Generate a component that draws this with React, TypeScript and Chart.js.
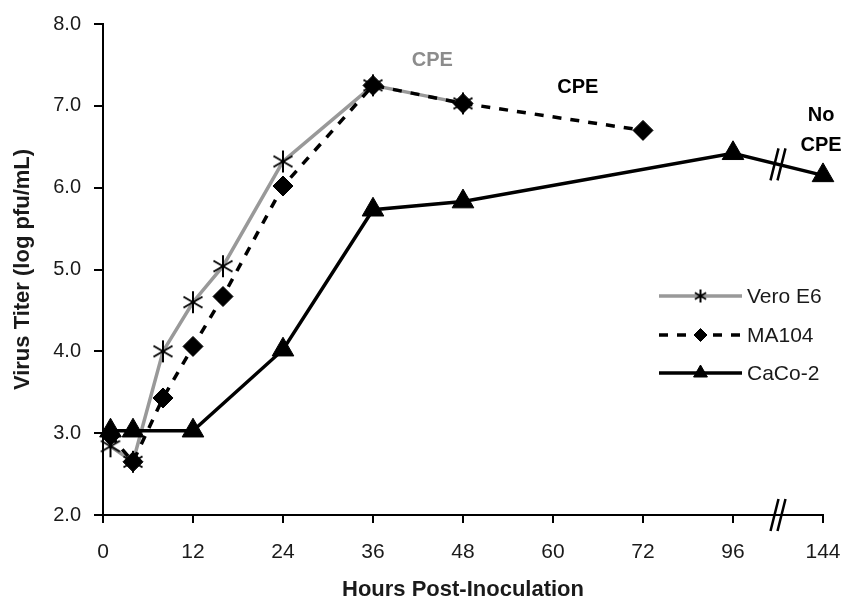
import React, { useEffect, useRef } from "react";
import { Chart, registerables } from "chart.js";
import { drawPoint } from "chart.js/helpers";

Chart.register(...registerables);

// ---- data ----
const TICK_HOURS = [0, 12, 24, 36, 48, 60, 72, 96, 144];
const TICK_LABELS = ["0", "12", "24", "36", "48", "60", "72", "96", "144"];

const SERIES_NAMES = ["Vero E6", "MA104", "CaCo-2"];

const VERO_HOURS = [1, 4, 8, 12, 16, 24, 36, 48];
const VERO_TITER = [2.84, 2.65, 4.0, 4.6, 5.04, 6.32, 7.25, 7.03];

const MA104_HOURS = [1, 4, 8, 12, 16, 24, 36, 48, 72];
const MA104_TITER = [2.97, 2.65, 3.43, 4.06, 4.67, 6.02, 7.25, 7.03, 6.7];

const CACO2_HOURS = [1, 4, 12, 24, 36, 48, 96, 144];
const CACO2_TITER = [3.03, 3.03, 3.03, 4.02, 5.73, 5.83, 6.42, 6.15];

const NOTE_TEXTS = ["CPE", "CPE", "No", "CPE"];
const NOTE_HOURS = [43.9, 63.3, 143, 143];
const NOTE_TITERS = [7.56, 7.22, 6.88, 6.52];
const NOTE_COLORS = ["#8c8c8c", "#000000", "#000000", "#000000"];

const BREAK_HOUR = 120;

// ---- helpers ----
const STEP = 12;
function axisPos(h: number): number {
  for (let i = 0; i < TICK_HOURS.length - 1; i++) {
    const a = TICK_HOURS[i];
    const b = TICK_HOURS[i + 1];
    if (h <= b) return (i + (h - a) / (b - a)) * STEP;
  }
  return (TICK_HOURS.length - 1) * STEP;
}

function makeAsterisk(r: number, lw: number): HTMLCanvasElement {
  const c = document.createElement("canvas");
  const s = Math.ceil(2 * r + lw + 2);
  c.width = s;
  c.height = s;
  const ctx = c.getContext("2d")!;
  ctx.strokeStyle = "#000";
  ctx.lineWidth = lw;
  const cx = s / 2;
  const cy = s / 2;
  ctx.beginPath();
  for (const deg of [90, 30, 150]) {
    const a = (deg * Math.PI) / 180;
    const dx = Math.cos(a) * r;
    const dy = Math.sin(a) * r;
    ctx.moveTo(cx - dx, cy - dy);
    ctx.lineTo(cx + dx, cy + dy);
  }
  ctx.stroke();
  return c;
}

function toPoints(hours: number[], vals: number[]) {
  return hours.map((h, i) => ({ x: axisPos(h), y: vals[i] }));
}

const FONT = "'Liberation Sans', Arial, Helvetica, sans-serif";

export default function App() {
  const ref = useRef<HTMLCanvasElement | null>(null);

  useEffect(() => {
    if (!ref.current) return;
    const bigStar = makeAsterisk(11, 2);
    const smallStar = makeAsterisk(6.5, 2);
    const legendStyles = [smallStar, "rectRot", "triangle"];
    const legendRadii = [0, 6.5, 8];

    const annotations = {
      id: "annotations",
      afterDatasetsDraw(chart: any) {
        const { ctx, scales } = chart;
        const xs = scales.x;
        const ys = scales.y;
        ctx.save();
        ctx.font = `bold 20px ${FONT}`;
        ctx.textAlign = "center";
        ctx.textBaseline = "middle";
        NOTE_TEXTS.forEach((t, i) => {
          ctx.fillStyle = NOTE_COLORS[i];
          ctx.fillText(
            t,
            xs.getPixelForValue(axisPos(NOTE_HOURS[i])),
            ys.getPixelForValue(NOTE_TITERS[i])
          );
        });

        // break marks
        const drawBreak = (cx: number, cy: number) => {
          ctx.strokeStyle = "#000";
          ctx.lineWidth = 2.5;
          ctx.setLineDash([]);
          ctx.beginPath();
          for (const off of [-3.5, 3.5]) {
            ctx.moveTo(cx + off + 4, cy - 16);
            ctx.lineTo(cx + off - 4, cy + 16);
          }
          ctx.stroke();
        };
        const bx = xs.getPixelForValue(axisPos(BREAK_HOUR));
        drawBreak(bx, ys.getPixelForValue(ys.min));
        // on CaCo-2 line between last two points
        const n = CACO2_HOURS.length;
        const p0 = axisPos(CACO2_HOURS[n - 2]);
        const p1 = axisPos(CACO2_HOURS[n - 1]);
        const f = (axisPos(BREAK_HOUR) - p0) / (p1 - p0);
        const v = CACO2_TITER[n - 2] + f * (CACO2_TITER[n - 1] - CACO2_TITER[n - 2]);
        drawBreak(bx, ys.getPixelForValue(v));
        ctx.restore();
      },
    };

    const customLegend = {
      id: "customLegend",
      afterDraw(chart: any) {
        const { ctx } = chart;
        const x0 = 659;
        const x1 = 742;
        const tx = 747;
        const rows = [296, 335, 373];
        ctx.save();
        chart.data.datasets.forEach((ds: any, i: number) => {
          const y = rows[i];
          ctx.strokeStyle = ds.borderColor;
          ctx.lineWidth = ds.borderWidth;
          ctx.setLineDash(ds.borderDash || []);
          ctx.beginPath();
          ctx.moveTo(x0, y);
          ctx.lineTo(x1, y);
          ctx.stroke();
          ctx.setLineDash([]);
          ctx.fillStyle = "#000";
          ctx.strokeStyle = "#000";
          ctx.lineWidth = 1;
          drawPoint(
            ctx,
            { pointStyle: legendStyles[i], radius: legendRadii[i], rotation: 0, borderWidth: 1 },
            (x0 + x1) / 2,
            y
          );
          ctx.fillStyle = "#1a1a1a";
          ctx.font = `21px ${FONT}`;
          ctx.textAlign = "left";
          ctx.textBaseline = "middle";
          ctx.fillText(SERIES_NAMES[i], tx, y + 1);
        });
        ctx.restore();
      },
    };

    const chart = new Chart(ref.current, {
      type: "line",
      data: {
        datasets: [
          {
            label: SERIES_NAMES[0],
            data: toPoints(VERO_HOURS, VERO_TITER),
            borderColor: "#999999",
            borderWidth: 3.5,
            pointStyle: bigStar as any,
            pointRadius: 11,
            pointBackgroundColor: "#000",
            pointBorderColor: "#000",
            clip: false as any,
            order: 2,
          },
          {
            label: SERIES_NAMES[1],
            data: toPoints(MA104_HOURS, MA104_TITER),
            borderColor: "#000000",
            borderWidth: 3.5,
            borderDash: [9, 9],
            pointStyle: "rectRot",
            pointRadius: 10,
            pointBackgroundColor: "#000",
            pointBorderColor: "#000",
            pointBorderWidth: 1,
            clip: false as any,
            order: 1,
          },
          {
            label: SERIES_NAMES[2],
            data: toPoints(CACO2_HOURS, CACO2_TITER),
            borderColor: "#000000",
            borderWidth: 3.5,
            pointStyle: "triangle",
            pointRadius: 12.5,
            pointBackgroundColor: "#000",
            pointBorderColor: "#000",
            pointBorderWidth: 1,
            clip: false as any,
            order: 0,
          },
        ],
      },
      options: {
        animation: false,
        responsive: false,
        layout: { autoPadding: false, padding: { left: 0, right: 23, top: 24, bottom: 0 } },
        plugins: {
          legend: { display: false },
          tooltip: { enabled: false },
        },
        scales: {
          x: {
            type: "linear",
            min: 0,
            max: (TICK_HOURS.length - 1) * STEP,
            afterFit(scale: any) {
              scale.height = 90;
              scale.paddingLeft = 0;
              scale.paddingRight = 0;
            },
            ticks: {
              stepSize: STEP,
              padding: 17,
              color: "#1a1a1a",
              font: { family: FONT, size: 21 },
              callback: (v: any) => TICK_LABELS[Math.round(Number(v) / STEP)] ?? "",
            },
            grid: {
              drawOnChartArea: false,
              drawTicks: true,
              tickLength: 8,
              color: "#000",
              lineWidth: 2,
            },
            border: { color: "#000", width: 2 },
            title: {
              display: true,
              text: "Hours Post-Inoculation",
              color: "#1a1a1a",
              font: { family: FONT, size: 22, weight: "bold" },
              padding: { top: 4, bottom: 2 },
            },
          },
          y: {
            min: 2,
            max: 8,
            afterFit(scale: any) {
              scale.width = 103;
              scale.paddingTop = 0;
              scale.paddingBottom = 0;
            },
            ticks: {
              stepSize: 1,
              padding: 13,
              color: "#1a1a1a",
              font: { family: FONT, size: 20 },
              callback: (v: any) => Number(v).toFixed(1),
            },
            grid: {
              drawOnChartArea: false,
              drawTicks: true,
              tickLength: 9,
              color: "#000",
              lineWidth: 2,
            },
            border: { color: "#000", width: 2 },
            title: {
              display: true,
              text: "Virus Titer (log pfu/mL)",
              color: "#1a1a1a",
              font: { family: FONT, size: 22, weight: "bold" },
              padding: { top: 10, bottom: 4 },
            },
          },
        },
      },
      plugins: [annotations, customLegend],
    });
    return () => chart.destroy();
  }, []);

  return (
    <div style={{ position: "absolute", left: 0, top: 0, width: 846, height: 605, background: "#fff" }}>
      <canvas ref={ref} width={846} height={605} />
    </div>
  );
}
